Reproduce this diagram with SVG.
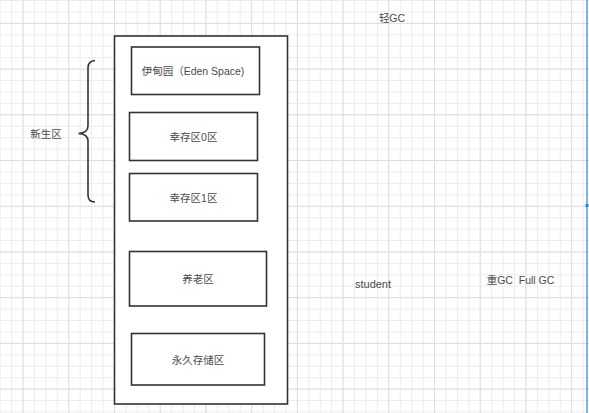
<svg xmlns="http://www.w3.org/2000/svg" width="589" height="413" viewBox="0 0 589 413">
  <defs>
    <pattern id="minor" x="68.3" y="22.9" width="11.43" height="11.43" patternUnits="userSpaceOnUse">
      <path d="M0 0.5H11.43M0.5 0V11.43" fill="none" stroke="#ececec" stroke-width="1"/>
    </pattern>
    <pattern id="major" x="68.3" y="22.9" width="45.71" height="45.71" patternUnits="userSpaceOnUse">
      <path d="M0 0.5H45.71M0.5 0V45.71" fill="none" stroke="#dedede" stroke-width="1"/>
    </pattern>
    <style>
      .box { fill: #ffffff; stroke: #333333; stroke-width: 1.6; }
      .lbl { font-family: "Liberation Sans", "Noto Sans CJK SC", sans-serif; font-size: 10.5px; fill: #4a4a4a; text-anchor: middle; dominant-baseline: central; white-space: pre; }
    </style>
  </defs>
  <rect x="0" y="0" width="589" height="413" fill="#ffffff"/>
  <rect x="0" y="0" width="589" height="413" fill="url(#minor)"/>
  <rect x="0" y="0" width="589" height="413" fill="url(#major)"/>

  <g id="heap">
    <rect class="box" x="114.5" y="36" width="173" height="368"/>
  </g>
  <g id="eden">
    <rect class="box" x="131.5" y="47" width="128" height="47.5"/>
    <text class="lbl" x="193" y="71">伊甸园（Eden Space)</text>
  </g>
  <g id="survivor0">
    <rect class="box" x="129.5" y="112.5" width="128" height="48"/>
    <text class="lbl" x="193.5" y="137">幸存区0区</text>
  </g>
  <g id="survivor1">
    <rect class="box" x="129.5" y="173.5" width="128" height="47.5"/>
    <text class="lbl" x="193.5" y="197.5">幸存区1区</text>
  </g>
  <g id="old">
    <rect class="box" x="129.5" y="251.5" width="137" height="54.5"/>
    <text class="lbl" x="198" y="279">养老区</text>
  </g>
  <g id="perm">
    <rect class="box" x="131.5" y="333.5" width="133" height="51.5"/>
    <text class="lbl" x="198" y="360">永久存储区</text>
  </g>
  <g id="young">
    <path d="M95 60.5 Q88 61 88 68 V126 Q88 133 78.5 133.5 Q88 134 88 141 V195 Q88 202 95 202" fill="none" stroke="#333333" stroke-width="1.6"/>
    <text class="lbl" x="46" y="134">新生区</text>
  </g>
  <g id="labels">
    <text class="lbl" x="392" y="17.5">轻GC</text>
    <text class="lbl" x="373" y="284" style="font-size:11px">student</text>
    <text class="lbl" x="520.5" y="280" xml:space="preserve">重GC  Full GC</text>
  </g>
  <g id="connectors"></g>
  <g id="edge">
    <line x1="587" y1="0" x2="587" y2="413" stroke="#5b9bd5" stroke-width="1.5"/>
    <rect x="585.5" y="204" width="3" height="3" fill="#1e88e5"/>
  </g>
</svg>
